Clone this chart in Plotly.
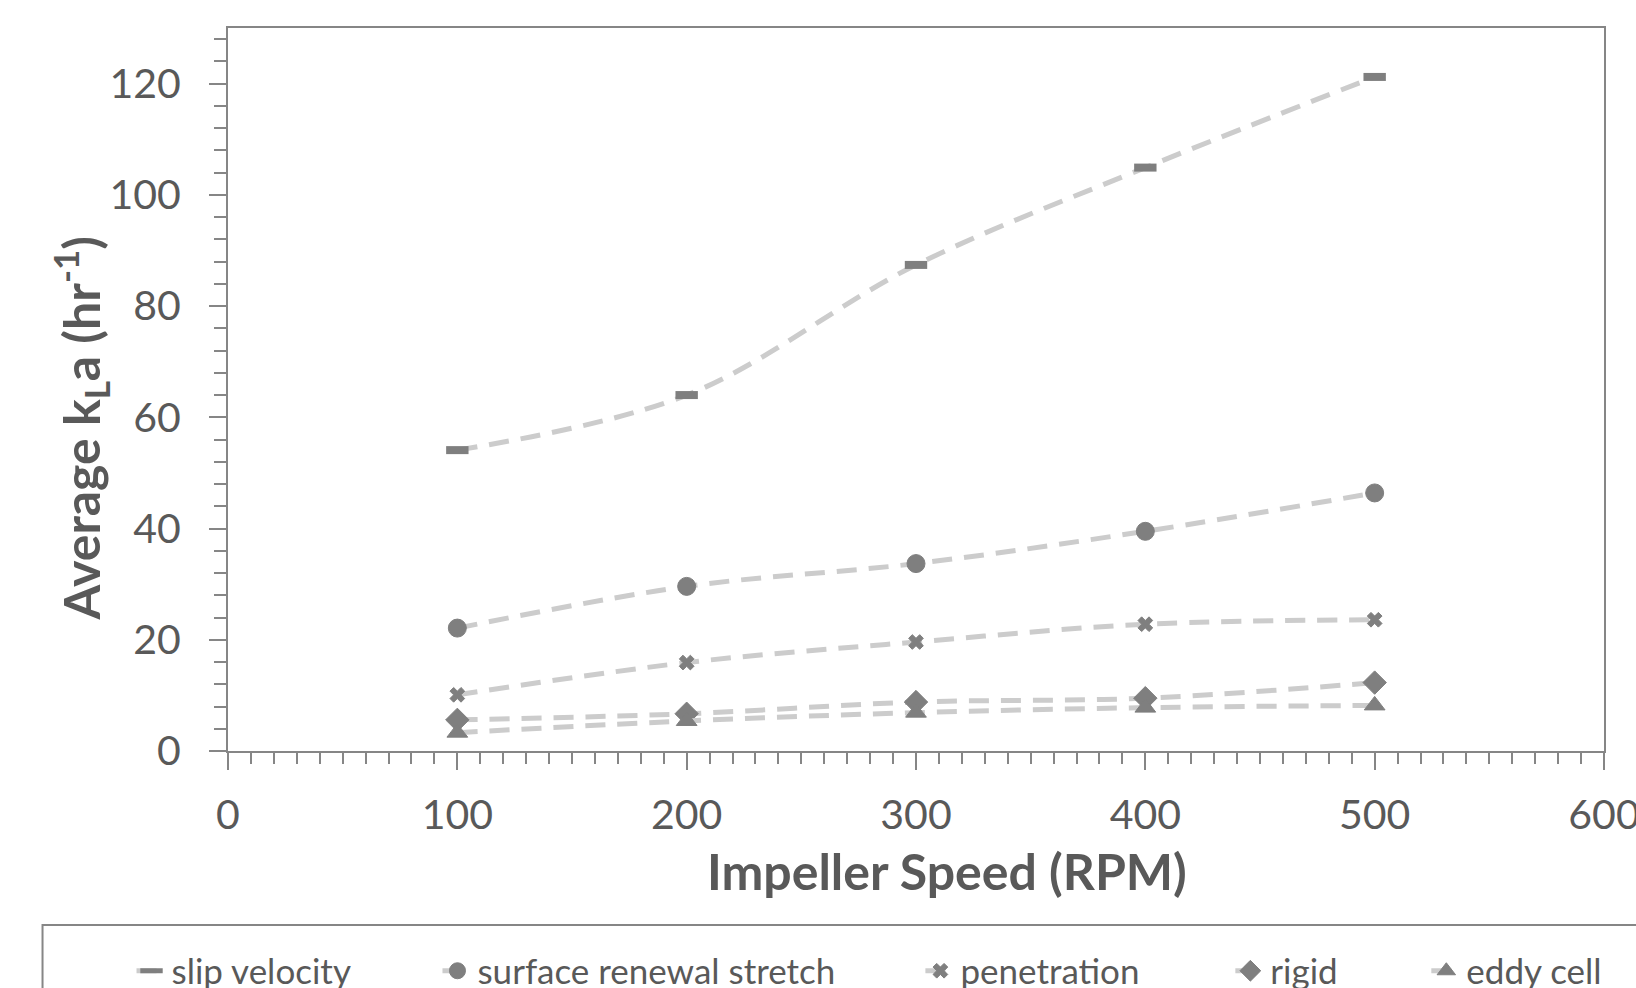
import plotly.graph_objects as go

# ---- data ----
speed_rpm = [100, 200, 300, 400, 500]
slip_velocity = [54.1, 64.0, 87.4, 104.9, 121.2]
surface_renewal_stretch = [22.1, 29.6, 33.7, 39.5, 46.4]
penetration = [10.1, 15.9, 19.6, 22.8, 23.6]
rigid = [5.6, 6.7, 8.8, 9.5, 12.3]
eddy_cell = [3.3, 5.4, 6.9, 7.8, 8.2]

series_names = ["slip velocity", "surface renewal stretch", "penetration", "rigid", "eddy cell"]
series_values = [slip_velocity, surface_renewal_stretch, penetration, rigid, eddy_cell]

# ---- style ----
W, H = 1636, 988
L, R, T, B = 227.5, 1603.7, 28.0, 751.0
PW, PH = R - L, B - T
FONT = "Lato"
TXT = "#595959"
AX = "#868686"
LINE = "#cccccc"
MK = "#7f7f7f"

symbols = ["line-ew", "circle", "x", "diamond", "triangle-up"]
sizes = [16, 18, 13, 18, 18]
text_starts = [173, 479, 962, 1272, 1468]  # pixel x of legend texts


def px_x(p):
    return (p - L) / PW


def px_y(p):
    return (B - p) / PH


fig = go.Figure()
for i, (name, vals) in enumerate(zip(series_names, series_values)):
    sym = symbols[i]
    marker = dict(symbol=sym, size=sizes[i], color=MK, line=dict(color=MK, width=1))
    if sym == "line-ew":
        marker = dict(symbol=sym, size=sizes[i], color=MK, line=dict(color=MK, width=8))
    lg = "legend" if i == 0 else f"legend{i + 1}"
    fig.add_trace(go.Scatter(
        x=speed_rpm, y=vals, name=name, mode="lines+markers",
        line=dict(color=LINE, width=5, dash="20px,12px", shape="spline", smoothing=1.0),
        marker=marker, legend=lg, showlegend=True,
    ))

axis_common = dict(showgrid=False, zeroline=False, linecolor=AX, linewidth=2,
                   tickcolor=AX, tickwidth=2, automargin=False,
                   tickfont=dict(family=FONT, size=41, color=TXT))

fig.update_layout(
    width=W, height=H, showlegend=True,
    margin=dict(l=L, r=W - R, t=T, b=H - B, pad=0, autoexpand=False),
    paper_bgcolor="white", plot_bgcolor="white",
    font=dict(family=FONT, color=TXT),
    xaxis=dict(range=[0, 600], dtick=100, tick0=0, ticks="outside", ticklen=17,
               mirror=True, ticklabelstandoff=10, ticklabeloverflow="allow",
               minor=dict(dtick=10, ticks="outside", ticklen=11, tickcolor=AX, tickwidth=2),
               **axis_common),
    yaxis=dict(range=[0, 130], tickvals=[0, 20, 40, 60, 80, 100, 120], ticks="outside", ticklen=17,
               mirror=True, ticklabelstandoff=20, ticklabeloverflow="allow",
               minor=dict(dtick=4, tick0=0, ticks="outside", ticklen=12, tickcolor=AX, tickwidth=2),
               **axis_common),
    xaxis2=dict(overlaying="x", anchor="y", range=[0, 600], dtick=100, tick0=0, ticks="inside",
                ticklen=17, tickcolor=AX, tickwidth=2, showticklabels=False, showline=False,
                showgrid=False, zeroline=False),
    yaxis2=dict(overlaying="y", anchor="x", side="left", range=[0, 130], dtick=20, tick0=0,
                ticks="inside", ticklen=14, tickcolor=AX, tickwidth=2, showticklabels=False,
                showline=False, showgrid=False, zeroline=False),
)

# legends
for i in range(5):
    key = "legend" if i == 0 else f"legend{i + 1}"
    fig.update_layout({key: dict(
        x=px_x(text_starts[i] - 42), xanchor="left",
        y=px_y(971), yanchor="middle", orientation="h",
        bgcolor="rgba(0,0,0,0)", borderwidth=0,
        font=dict(family=FONT, size=35, color=TXT),
        itemwidth=30,
    )})

# legend frame
fig.add_shape(type="rect", xref="paper", yref="paper",
              x0=px_x(42), x1=px_x(1700), y0=px_y(925), y1=px_y(1060),
              line=dict(color=AX, width=2), fillcolor="rgba(0,0,0,0)", layer="below")

# axis titles
fig.add_annotation(text="<b>Impeller Speed (RPM)</b>", xref="paper", yref="paper",
                   x=px_x(947), y=px_y(871), xanchor="center", yanchor="middle",
                   showarrow=False, font=dict(family=FONT, size=50, color=TXT))
fig.add_annotation(text="<b>Average k<sub>L</sub>a (hr<sup>-1</sup>)</b>", xref="paper", yref="paper",
                   x=px_x(80), y=px_y(428), xanchor="center", yanchor="middle", textangle=-90,
                   showarrow=False, font=dict(family=FONT, size=50, color=TXT))

fig.write_html("out.html", config={"displayModeBar": False},
               post_script="document.body.style.margin='0';document.body.style.overflow='hidden';")
